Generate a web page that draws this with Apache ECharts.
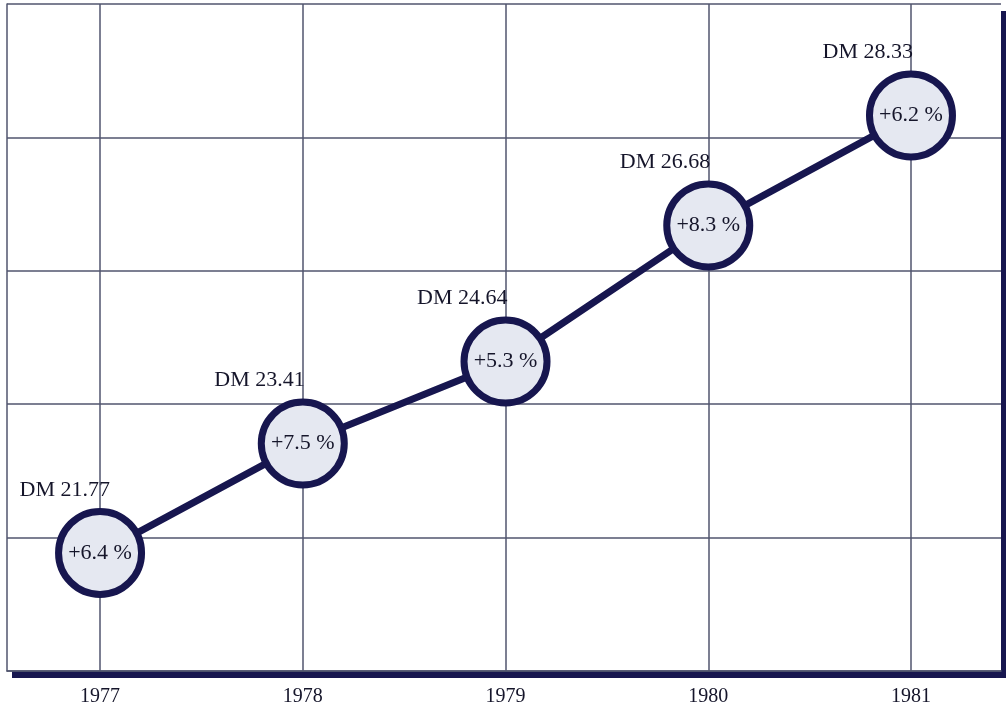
<!DOCTYPE html>
<html>
<head>
<meta charset="utf-8">
<style>
  html, body { margin: 0; padding: 0; background: #ffffff; }
  #chart { width: 1006px; height: 713px; }
</style>
<script src="https://cdn.jsdelivr.net/npm/echarts@6/dist/echarts.min.js"></script>
</head>
<body>
<div id="chart"></div>
<script>
// Price per year with year-on-year growth
const years = [1977, 1978, 1979, 1980, 1981];
const prices = [21.77, 23.41, 24.64, 26.68, 28.33];
const growth = ['+6.4 %', '+7.5 %', '+5.3 %', '+8.3 %', '+6.2 %'];
const priceLabels = ['DM 21.77', 'DM 23.41', 'DM 24.64', 'DM 26.68', 'DM 28.33'];

const NAVY = '#17164f';
const GRIDLINE = '#50556e';
const TEXT = '#15152a';
const SERIF = '"Liberation Serif", "DejaVu Serif", serif';

const points = years.map((y, i) => [y, prices[i]]);

const chart = echarts.init(document.getElementById('chart'));
chart.setOption({
  backgroundColor: '#ffffff',
  animation: false,
  // plot frame: white panel with a hard navy drop shadow to the lower right
  grid: {
    show: true,
    left: 7, right: 5, top: 4, bottom: 42,
    backgroundColor: '#ffffff',
    borderWidth: 0,
    shadowColor: NAVY,
    shadowBlur: 0,
    shadowOffsetX: 5,
    shadowOffsetY: 7
  },
  xAxis: {
    type: 'value',
    min: 1976.541,
    max: 1981.444,
    axisLine: { show: true, lineStyle: { color: GRIDLINE, width: 1.5 } },
    axisTick: { show: false, customValues: years },
    axisLabel: {
      customValues: years,
      formatter: v => String(v),
      margin: 16,
      color: TEXT,
      fontFamily: SERIF,
      fontSize: 20
    },
    splitLine: { show: true, lineStyle: { color: GRIDLINE, width: 1.5 } }
  },
  yAxis: {
    type: 'value',
    min: 20,
    max: 30,
    interval: 2,
    axisLine: { show: true, lineStyle: { color: GRIDLINE, width: 1.5 } },
    axisTick: { show: false },
    axisLabel: { show: false },
    splitLine: { show: true, lineStyle: { color: GRIDLINE, width: 1.5 } }
  },
  series: [
    {
      type: 'line',
      data: points,
      z: 3,
      lineStyle: { color: NAVY, width: 7 },
      symbol: 'circle',
      symbolSize: 83,
      itemStyle: { color: '#e5e8f1', borderColor: NAVY, borderWidth: 7 },
      label: {
        show: true,
        position: 'inside',
        formatter: p => growth[p.dataIndex],
        color: TEXT,
        fontFamily: SERIF,
        fontSize: 22
      }
    },
    {
      type: 'scatter',
      data: points.map((p, i) => ({
        value: p,
        label: { offset: i === 0 ? [10, -52] : [2, -52] }
      })),
      symbolSize: 0,
      z: 4,
      silent: true,
      itemStyle: { opacity: 1 },
      label: {
        show: true,
        position: 'inside',
        align: 'right',
        verticalAlign: 'bottom',
        formatter: p => priceLabels[p.dataIndex],
        color: TEXT,
        fontFamily: SERIF,
        fontSize: 22
      }
    }
  ]
});
</script>
</body>
</html>
